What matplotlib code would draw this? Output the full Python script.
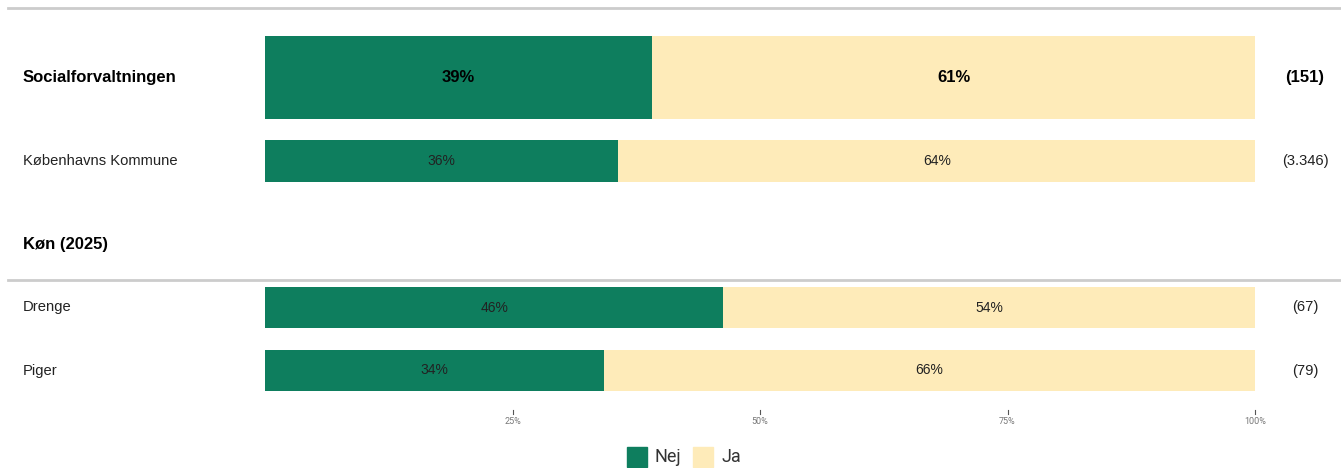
import matplotlib
matplotlib.use("Agg")
import matplotlib.pyplot as plt
from matplotlib.patches import Rectangle
from matplotlib.lines import Line2D

categories = ["Socialforvaltningen", "Københavns Kommune", "Drenge", "Piger"]
nej = [39.1, 35.7, 46.3, 34.2]
ja = [60.9, 64.3, 53.7, 65.8]
n_labels = ["(151)", "(3.346)", "(67)", "(79)"]
bold_rows = [True, False, False, False]
section_header = "Køn (2025)"
tick_values = [25, 50, 75, 100]
tick_labels = ["25%", "50%", "75%", "100%"]
legend_labels = ["Nej", "Ja"]

GREEN = "#0e7e5e"
YELLOW = "#feebb9"

W, H = 1341, 468
fig = plt.figure(figsize=(W / 100, H / 100), dpi=100)
ax = fig.add_axes([265 / W, 0, 990 / W, 1])
ax.set_xlim(0, 100)
ax.set_ylim(H, 0)
ax.axis("off")

font = "Liberation Sans"
centers = [77.5, 161, 307.5, 370.5]
heights = [83, 42, 41, 41]

for i, cat in enumerate(categories):
    c, h = centers[i], heights[i]
    b = bold_rows[i]
    wt = "bold" if b else "normal"
    tc = "black" if b else "#222222"
    ax.barh(c, nej[i], height=h, left=0, color=GREEN)
    ax.barh(c, ja[i], height=h, left=nej[i], color=YELLOW)
    ax.text(nej[i] / 2, c, f"{round(nej[i])}%", ha="center", va="center",
            fontsize=12 if b else 10, fontweight=wt, family=font, color=tc)
    ax.text(nej[i] + ja[i] / 2, c, f"{round(ja[i])}%", ha="center", va="center",
            fontsize=12 if b else 10, fontweight=wt, family=font, color=tc)
    fig.text(23 / W, 1 - c / H, cat, ha="left", va="center",
             fontsize=12 if b else 10.6, fontweight=wt, family=font, color=tc)
    fig.text(1305 / W, 1 - c / H, n_labels[i], ha="center", va="center",
             fontsize=12 if b else 10.6, fontweight=wt, family=font, color=tc)

fig.text(23 / W, 1 - 245 / H, section_header, ha="left", va="center",
         fontsize=12, fontweight="bold", family=font, color="black")

for yline in [8, 280]:
    fig.add_artist(Line2D([8 / W, 1], [1 - yline / H] * 2, color="#cccccc", lw=2))

for tv, tl in zip(tick_values, tick_labels):
    ax.plot([tv, tv], [410, 414], color="#555555", lw=0.8, clip_on=False)
    ax.text(tv, 421, tl, ha="center", va="center", fontsize=6.5,
            family="Roboto", color="#777777")

lx = [627, 693]
for x0, lab, col in zip(lx, legend_labels, [GREEN, YELLOW]):
    fig.add_artist(Rectangle((x0 / W, 1 - 467 / H), 20 / W, 20 / H,
                             transform=fig.transFigure, color=col))
    fig.text((x0 + 28) / W, 1 - 457 / H, lab, ha="left", va="center",
             fontsize=13, family="Roboto", color="#333333")

fig.savefig("out.png", dpi=100)
